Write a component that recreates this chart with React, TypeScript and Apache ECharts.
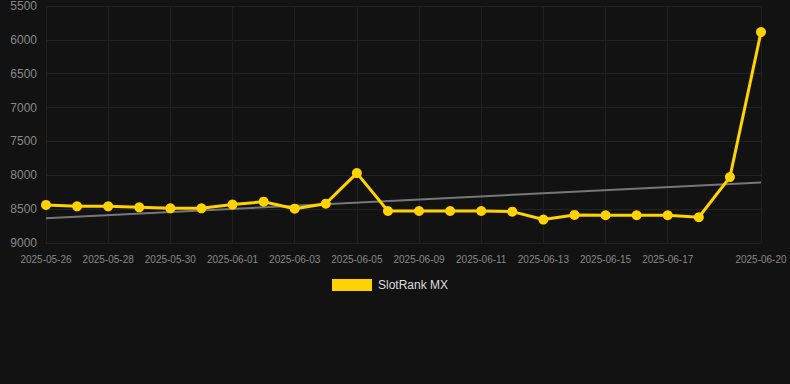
import React, { useEffect, useRef } from "react";
import * as echarts from "echarts";

const categories = [
  "2025-05-26", "2025-05-27", "2025-05-28", "2025-05-29", "2025-05-30", "2025-05-31",
  "2025-06-01", "2025-06-02", "2025-06-03", "2025-06-04", "2025-06-05", "2025-06-07",
  "2025-06-09", "2025-06-10", "2025-06-11", "2025-06-12", "2025-06-13", "2025-06-14",
  "2025-06-15", "2025-06-16", "2025-06-17", "2025-06-18", "2025-06-19", "2025-06-20",
];

const rankValues = [
  8438, 8459, 8459, 8473, 8488, 8488, 8433, 8390, 8493, 8419, 7968, 8527,
  8527, 8527, 8527, 8537, 8654, 8585, 8590, 8590, 8590, 8620, 8027, 5885,
];

const trendStart = 8635;
const trendEnd = 8105;

const yTicks = { min: 5500, max: 9000, interval: 500 };

const labelShown = (index: number) =>
  (index % 2 === 0 && index <= 20) || index === categories.length - 1;

export default function App() {
  const ref = useRef<HTMLDivElement>(null);

  useEffect(() => {
    document.body.style.margin = "0";
    document.body.style.background = "#121212";
    const chart = echarts.init(ref.current!, null, { renderer: "svg" });
    const trendData = categories.map((_, i) =>
      i === 0 ? trendStart : i === categories.length - 1 ? trendEnd : null
    );
    chart.setOption({
      animation: false,
      backgroundColor: "#121212",
      grid: { left: 46, right: 29, top: 5.5, bottom: 141, containLabel: false },
      legend: {
        data: ["SlotRank MX"],
        top: 274,
        left: 327,
        icon: "rect",
        itemWidth: 40,
        itemHeight: 12,
        itemGap: 10,
        textStyle: { color: "#dddddd", fontSize: 12, padding: [0, 0, 0, 1], fontFamily: "Arial, Liberation Sans, sans-serif" },
      },
      xAxis: {
        type: "category",
        data: categories,
        boundaryGap: false,
        axisLine: { show: false },
        axisTick: { show: false, interval: labelShown },
        axisLabel: {
          interval: labelShown,
          color: "#888888",
          fontSize: 10,
          margin: 11,
          fontFamily: "Arial, Liberation Sans, sans-serif",
        },
        splitLine: { show: true, interval: labelShown, lineStyle: { color: "#202020", width: 1 } },
      },
      yAxis: {
        type: "value",
        inverse: true,
        min: yTicks.min,
        max: yTicks.max,
        interval: yTicks.interval,
        axisLine: { show: false },
        axisTick: { show: false },
        axisLabel: {
          color: "#888888",
          fontSize: 12,
          margin: 9,
          formatter: (v: number) => String(v),
          fontFamily: "Arial, Liberation Sans, sans-serif",
        },
        splitLine: { show: true, lineStyle: { color: "#222222", width: 1 } },
      },
      series: [
        {
          name: "Trend",
          type: "line",
          data: trendData,
          connectNulls: true,
          showSymbol: false,
          symbol: "none",
          lineStyle: { color: "#777777", width: 2 },
          z: 1,
          silent: true,
        },
        {
          name: "SlotRank MX",
          type: "line",
          data: rankValues,
          symbol: "circle",
          symbolSize: 10,
          itemStyle: { color: "#FFD200" },
          lineStyle: { color: "#FFD200", width: 3 },
          z: 3,
        },
      ],
    });
    return () => chart.dispose();
  }, []);

  return <div ref={ref} style={{ width: 790, height: 384 }} />;
}
